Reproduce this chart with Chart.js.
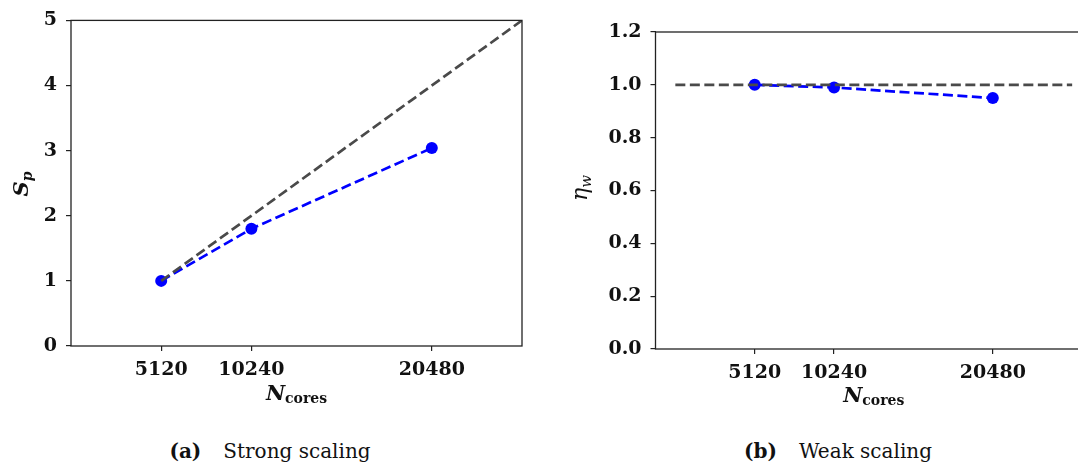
<!DOCTYPE html>
<html>
<head>
<meta charset="utf-8">
<script src="https://cdn.jsdelivr.net/npm/chart.js@4"></script>
<style>
  html, body { margin: 0; padding: 0; background: #fff; }
  body { width: 1078px; height: 462px; overflow: hidden; position: relative; }
  canvas { position: absolute; top: 0; }
  #left { left: 0; }
  #right { left: 540px; }
  .cap {
    position: absolute; top: 441px; line-height: 20px;
    font-family: "DejaVu Serif", serif; font-size: 20px; color: #111;
    white-space: nowrap; transform: translateX(-50%);
  }
  .cap b { margin-right: 22px; }
</style>
</head>
<body>
<canvas id="left" width="540" height="420"></canvas>
<canvas id="right" width="570" height="420"></canvas>
<div class="cap" style="left:270px"><b>(a)</b>Strong scaling</div>
<div class="cap" style="left:838px"><b>(b)</b>Weak scaling</div>

<script>
// data
const cores = [5120, 10240, 20480];
const speedup = [1.0, 1.80, 3.04];
const idealSpeedX = [5120, 25600];
const idealSpeed = [1, 5];
const efficiency = [1.0, 0.99, 0.95];
const idealEffX = [0, 25600];
const idealEff = [1, 1];
const coreTicks = [5120, 10240, 20480];

const FONT = 'DejaVu Serif';
const AXIS = '#222';

function pts(xs, ys) {
  return xs.map((x, i) => ({x: x, y: ys[i]}));
}

// draw a title made of pieces (main text + subscript)
function drawRich(ctx, parts, x, y, rotate) {
  ctx.save();
  ctx.translate(x, y);
  if (rotate) ctx.rotate(-Math.PI / 2);
  let total = 0;
  parts.forEach(p => { ctx.font = p.f; total += ctx.measureText(p.t).width; });
  let cx = -total / 2;
  ctx.fillStyle = '#111';
  ctx.textBaseline = 'alphabetic';
  ctx.textAlign = 'left';
  parts.forEach(p => {
    ctx.font = p.f;
    ctx.fillText(p.t, cx, p.dy || 0);
    cx += ctx.measureText(p.t).width;
  });
  ctx.restore();
}

const framePlugin = {
  id: 'frame',
  afterDraw(chart, args, opts) {
    const ctx = chart.ctx, a = chart.chartArea;
    ctx.save();
    ctx.strokeStyle = AXIS;
    ctx.lineWidth = 1.3;
    ctx.strokeRect(a.left, a.top, a.right - a.left, a.bottom - a.top);
    ctx.restore();
    const cx = (a.left + a.right) / 2;
    drawRich(ctx, opts.xTitle, cx, opts.xBase, false);
    drawRich(ctx, opts.yTitle, opts.yBase, opts.yMid, true);
  }
};

function axisX(height) {
  return {
    type: 'linear', min: 0, max: 25600,
    afterBuildTicks: s => { s.ticks = coreTicks.map(v => ({value: v})); },
    afterFit: s => { s.height = height; },
    ticks: { color: '#111', padding: 8, font: {family: FONT, weight: 'bold', size: 19},
             callback: v => String(v), autoSkip: false, maxRotation: 0 },
    grid: { drawOnChartArea: false, tickLength: 5, color: AXIS, lineWidth: 1.2 },
    border: { display: false }
  };
}

function axisY(width, min, max, step, dec) {
  return {
    min: min, max: max,
    afterFit: s => { s.width = width; },
    ticks: { stepSize: step, color: '#111', padding: 9,
             font: {family: FONT, weight: 'bold', size: 19},
             callback: v => v.toFixed(dec) },
    grid: { drawOnChartArea: false, tickLength: 5, color: AXIS, lineWidth: 1.2 },
    border: { display: false }
  };
}

function idealSet(data) {
  return { data: data, borderColor: '#4a4a4a', borderWidth: 2.7, borderDash: [10, 4.5],
           pointRadius: 0, fill: false, tension: 0 };
}
function measSet(data) {
  return { data: data, borderColor: '#0000ff', backgroundColor: '#0000ff', borderWidth: 2.7,
           borderDash: [10, 4.5], pointRadius: 6, pointBorderWidth: 0, fill: false, tension: 0 };
}

const xTitle = [
  {t: 'N', f: 'italic bold 21px "DejaVu Serif"'},
  {t: 'cores', f: 'bold 14px "DejaVu Serif"', dy: 3}
];

new Chart(document.getElementById('left'), {
  type: 'line',
  data: { datasets: [idealSet(pts(idealSpeedX, idealSpeed)), measSet(pts(cores, speedup))] },
  options: {
    responsive: false, animation: false,
    layout: { autoPadding: false, padding: {left: 0, right: 18, top: 18, bottom: 0} },
    scales: { x: axisX(74), y: axisY(71, 0, 5, 1, 0) },
    plugins: {
      legend: {display: false}, tooltip: {enabled: false},
      frame: {
        xTitle: xTitle, xBase: 400,
        yTitle: [
          {t: 'S', f: 'italic bold 21px "DejaVu Serif"'},
          {t: 'p', f: 'italic bold 14px "DejaVu Serif"', dy: 4}
        ],
        yBase: 28, yMid: 184
      }
    }
  },
  plugins: [framePlugin]
});

new Chart(document.getElementById('right'), {
  type: 'line',
  data: { datasets: [idealSet(pts(idealEffX, idealEff)), measSet(pts(cores, efficiency))] },
  options: {
    responsive: false, animation: false,
    layout: { autoPadding: false, padding: {left: 0, right: 18, top: 32, bottom: 0} },
    scales: {
      x: Object.assign(axisX(71), {min: -1280, max: 26880}),
      y: axisY(115.5, 0, 1.2, 0.2, 1)
    },
    plugins: {
      legend: {display: false}, tooltip: {enabled: false},
      frame: {
        xTitle: xTitle, xBase: 402,
        yTitle: [
          {t: 'η', f: 'italic 22px "DejaVu Serif"'},
          {t: 'w', f: 'italic 15px "DejaVu Serif"', dy: 4}
        ],
        yBase: 47, yMid: 188
      }
    }
  },
  plugins: [framePlugin]
});
</script>
</body>
</html>
